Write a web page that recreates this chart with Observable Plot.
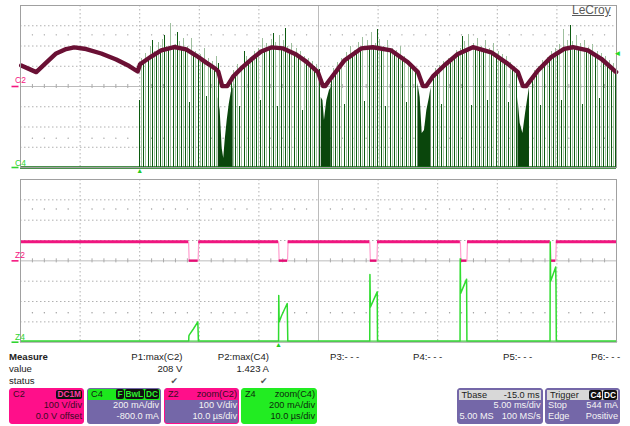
<!DOCTYPE html>
<html><head><meta charset="utf-8">
<script src="https://cdn.jsdelivr.net/npm/d3@7"></script>
<script src="https://cdn.jsdelivr.net/npm/@observablehq/plot@0.6"></script>
<style>
body{margin:0;background:#fff;font-family:"Liberation Sans",Arial,sans-serif;}
#wrap{position:relative;width:630px;height:426px;overflow:hidden;background:#fff;}
#top{position:absolute;left:0;top:0;}
#bot{position:absolute;left:0;top:174px;}
.t{position:absolute;font-size:9.6px;line-height:12px;color:#222;white-space:nowrap;}
.logo{position:absolute;left:572px;top:3px;font-size:12px;line-height:14px;color:#5a5a5a;text-decoration:underline;}
.box{position:absolute;top:388px;height:36px;border:1px solid;border-radius:3px;font-size:9.2px;line-height:11px;overflow:hidden;box-sizing:border-box;white-space:nowrap;}
.hd{height:11px;display:flex;justify-content:space-between;align-items:center;padding:0 1px 0 3px;}
.row{display:flex;justify-content:space-between;padding:0 1px 0 2px;}
.r{text-align:right;padding-right:1px;}
.bd{background:#111;padding:0 1px;border-radius:2px;font-weight:bold;font-size:8.3px;line-height:9px;margin-left:1px;}
</style></head><body>
<div id="wrap">
<div id="top"></div><div id="bot"></div>
<div class="logo">LeCroy</div>
<div id="meas"></div>
</div>
<script>
// ---------- C2 (line voltage, V) vs time (ms) ----------
const c2T = [-9.94,-8.68,-7.84,-7.01,-6.17,-5.49,-4.49,-3.23,-1.97,-0.88,-0.17,0.03,0.96,1.80,2.89,3.90,4.74,5.58,6.33,6.59,6.92,7.34,7.84,8.51,9.35,10.19,11.03,12.04,13.13,13.97,14.95,15.37,15.57,15.79,17.16,18.58,19.56,21.10,22.50,23.34,23.76,24.04,24.6,25.57,26.69,27.95,29.49,30.89,31.73,32.15,32.42,33.41,34.52,35.61,36.34,37.60,38.72,39.97];
const c2V = [104,71,118,163,185,193,185,163,133,101,74,110,148,178,195,183,153,118,89,74,2,2,49,89,133,173,193,188,158,123,71,2,2,21,128,188,194,178,120,71,2,2,50,105,161,194,169,112,71,2,2,79,145,186,194,178,137,71];

// ---------- C4 (current, mA) switching pulses ----------
const darkT = [0,0.35,0.7,1.05,1.4,1.75,2.1,2.45,2.8,3.15,3.5,3.85,4.2,4.55,4.9,5.25,5.6,5.95,6.3,6.65,
7.7,8.05,8.4,8.75,9.1,9.45,9.8,10.15,10.5,10.85,11.2,11.55,11.9,12.25,12.6,12.95,13.3,13.65,14.0,14.35,14.7,15.05,
16.1,16.45,16.8,17.15,17.5,17.85,18.2,18.55,18.9,19.25,19.6,19.95,20.3,20.65,21.0,21.35,21.7,22.05,22.4,22.75,23.1,
24.65,25.0,25.35,25.7,26.05,26.4,26.75,27.1,27.45,27.8,28.15,28.5,28.85,29.2,29.55,29.9,30.25,30.6,30.95,31.3,31.65,
32.95,33.3,33.65,34.0,34.35,34.7,35.05,35.4,35.75,36.1,36.45,36.8,37.15,37.5,37.85,38.2,38.55,38.9,39.25,39.6,39.95];
const darkI = [660,1050,1080,1250,1130,1150,1300,1180,1190,1330,1180,1170,640,1120,1100,1065,700,1010,980,1030,
890,930,600,1150,1040,1080,1110,660,1165,1180,1320,600,1178,1370,1150,1125,1105,560,1045,1020,995,970,
900,950,1000,620,1090,1120,1150,1175,650,1186,1190,1360,1180,600,1160,1140,1105,1080,640,1010,970,
910,940,620,1000,1045,1085,1125,1290,1170,610,1186,1175,1165,660,1135,1115,1085,1050,640,985,950,
900,945,610,1030,1075,1110,1135,660,1175,1400,1188,1180,620,1160,1145,1120,680,1055,1020,985,950];
const lightT = [0.17,0.52,0.87,1.22,1.57,1.92,2.27,2.62,2.97,3.32,3.67,4.02,4.37,4.72,5.07,5.42,5.77,6.12,6.47,
7.87,8.22,8.57,8.92,9.27,9.62,9.97,10.32,10.67,11.02,11.37,11.72,12.07,12.42,12.77,13.12,13.47,13.82,14.17,14.52,14.87,
16.27,16.62,16.97,17.32,17.67,18.02,18.37,18.72,19.07,19.42,19.77,20.12,20.47,20.82,21.17,21.52,21.87,22.22,22.57,22.92,
24.82,25.17,25.52,25.87,26.22,26.57,26.92,27.27,27.62,27.97,28.32,28.67,29.02,29.37,29.72,30.07,30.42,30.77,31.12,31.47,
33.12,33.47,33.82,34.17,34.52,34.87,35.22,35.57,35.92,36.27,36.62,36.97,37.32,37.67,38.02,38.37,38.72,39.07,39.42,39.77];
const lightI = [1080,1130,1200,1150,1230,1260,1200,1425,1210,1240,1270,1200,1270,1150,1120,1180,1080,1050,1100,
960,1020,1000,1100,1080,1150,1180,1270,1220,1260,1230,1300,1250,1200,1220,1180,1150,1100,1080,1050,1020,
980,1040,1080,1140,1200,1160,1230,1280,1250,1330,1220,1260,1200,1250,1180,1160,1200,1100,1060,1000,
980,1010,1050,1080,1100,1160,1180,1240,1310,1220,1270,1200,1250,1180,1220,1150,1120,1100,1040,1000,
960,1000,1060,1090,1150,1180,1210,1360,1250,1240,1300,1220,1250,1190,1210,1150,1130,1100,1060,1030];
// dense pulse bursts near each zero crossing (envelope, mA)
const valleyId = [1,1,1,1,1,1,1,1,1, 2,2,2,2,2,2, 3,3,3,3,3,3,3, 4,4,4,4,4,4];
const valleyT  = [6.59,6.75,6.92,7.05,7.17,7.34,7.51,7.68,7.84, 15.23,15.37,15.50,15.70,15.92,16.07, 23.34,23.53,23.70,23.89,24.09,24.31,24.45, 31.73,31.92,32.15,32.37,32.57,32.70];
const valleyI  = [691,563,188,89,267,464,622,741,790, 691,662,464,662,760,790, 830,691,336,365,563,691,790, 691,435,336,533,691,790];

// ---------- Zoom traces (time in µs) ----------
const z2T = [0,28.2,28.3,29.8,29.9,43.3,43.4,44.8,44.9,58.6,58.7,59.8,59.9,73.8,73.9,74.9,75.0,88.9,89.0,89.8,89.9,100];
const z2V = [94,94,1,1,94,94,1,1,94,94,1,1,94,94,1,1,94,94,1,1,94,94];
const z4T = [0,28.22,28.25,28.35,29.0,29.75,29.85,43.3,43.33,43.4,43.8,44.75,44.85,58.6,58.63,58.7,59.85,59.9,73.75,73.78,73.85,74.85,74.9,88.85,88.88,88.95,89.8,89.85,89.9,100];
const z4I = [10,10,60,75,130,200,10,10,460,200,260,380,10,10,665,345,495,10,10,820,480,620,10,10,985,600,740,540,10,10];

// ---------- graticule ----------
const topXGrid = [-5,0,5,10,20,25,30,35];
const botXGrid = [10,20,30,40,60,70,80,90];
const yGrid = [1,2,3,5,6,7];
const dotRows = [1.45, 6.55];

const c2Rows = c2T.map((t,i)=>({t, v:c2V[i]}));
const darkRows = darkT.map((t,i)=>({t, i:darkI[i]})).filter(d=>d.i!=null);
const lightRows = lightT.map((t,i)=>({t, i:lightI[i]})).filter(d=>d.i!=null);
const valleyRows = valleyT.map((t,i)=>({t, i:valleyI[i], id:valleyId[i]}));
const z2Rows = z2T.map((t,i)=>({t, v:z2V[i]}));
const z4Rows = z4T.map((t,i)=>({t, i:z4I[i]}));
const z2Flat = [];
for (let k=0;k<z2Rows.length-1;k++) if (z2Rows[k].v===z2Rows[k+1].v) z2Flat.push({x1:z2Rows[k].t,x2:z2Rows[k+1].t,v:z2Rows[k].v});

const PINK="#f5167f", GREEN="#2fd42f";
const gridStyle = {stroke:"#b0b0b0", strokeDasharray:"1.5,2.5"};

function graticule(x0, x1, xGrid, xCenter){
  const per = (x1-x0)/50; // 1/5 division
  const minor = d3.range(x0+per, x1-per/2, per).filter(v => Math.abs(((v-x0)/(per*5)) - Math.round((v-x0)/(per*5))) > 1e-6);
  const dots = dotRows.flatMap(y => minor.map(x=>({x,y})));
  return [
    Plot.ruleX(xGrid, gridStyle),
    Plot.ruleY(yGrid, gridStyle),
    Plot.ruleX([xCenter], {stroke:"#bcbcbc"}),
    Plot.ruleY([4], {stroke:"#bcbcbc"}),
    Plot.dot(dots, {x:"x", y:"y", r:0.7, fill:"#9a9a9a", stroke:null}),
    Plot.ruleX(minor, {y1:3.9, y2:4.1, stroke:"#aaaaaa"})
  ];
}
function chanLabel(txt, y, color, x0, x1, dy){
  const px = p => x0 + (p-20)*(x1-x0)/596;
  return [
    Plot.text([txt], {frameAnchor:"left", y, dx:-5.5, dy, fill:color, fontSize:8.5}),
    Plot.ruleY([y], {x1:px(11.5), x2:px(18.5), stroke:color, strokeWidth:1.6})
  ];
}

const topPlot = Plot.plot({
  width:630, height:176, marginLeft:20, marginRight:14, marginTop:5, marginBottom:9,
  x:{domain:[-10,40], axis:null},
  y:{domain:[0,8], axis:null},
  style:{fontFamily:"Liberation Sans, Arial, sans-serif", overflow:"visible", background:"transparent"},
  marks:[
    ...graticule(-10,40,topXGrid,15),
    Plot.ruleX(lightRows, {x:"t", y1:0, y2:d=>d.i/200, stroke:"#9fc09f", strokeWidth:1, shapeRendering:"crispEdges"}),
    Plot.ruleX(darkRows, {x:"t", y1:0, y2:d=>d.i/200, stroke:"#0c5a10", strokeWidth:1, shapeRendering:"crispEdges"}),
    Plot.areaY(valleyRows, {x:"t", y:d=>d.i/200, z:"id", fill:"#0a460c"}),
    Plot.ruleY([0], {stroke:"#0f6c10", strokeWidth:2.6}),
    Plot.line(c2Rows, {x:"t", y:d=>d.v/100+4, stroke:"#6a1034", strokeWidth:4.4, strokeLinejoin:"round", strokeLinecap:"round"}),
    Plot.frame({stroke:"#a0a0a0"}),
    ...chanLabel("C2", 4, PINK, -10, 40, -6),
    ...chanLabel("C4", 0, GREEN, -10, 40, -4.5),
    Plot.text(["▲"], {x:0, frameAnchor:"bottom", dy:5, fill:"#22cc22", fontSize:7}),
    Plot.text(["◄"], {frameAnchor:"right", y:5.63, dx:5, fill:"#22dd22", fontSize:8})
  ]
});
document.getElementById("top").append(topPlot);

const botPlot = Plot.plot({
  width:630, height:176, marginLeft:20, marginRight:14, marginTop:5, marginBottom:8.3,
  x:{domain:[0,100], axis:null},
  y:{domain:[0,8], axis:null},
  style:{fontFamily:"Liberation Sans, Arial, sans-serif", overflow:"visible", background:"transparent"},
  marks:[
    ...graticule(0,100,botXGrid,50),
    Plot.line(z2Rows, {x:"t", y:d=>d.v/100+4, stroke:"#ff9fcf", strokeWidth:1.2}),
    Plot.ruleY(z2Flat, {x1:"x1", x2:"x2", y:d=>d.v/100+4, stroke:d=>d.v>50?"hi":"lo", strokeWidth:d=>d.v>50?2.8:2.4}),
    Plot.line(z4Rows, {x:"t", y:d=>d.i/200, stroke:"#30dc30", strokeWidth:1.5}),
    Plot.ruleY([0.05], {stroke:"#30dc30", strokeWidth:1.2}),
    Plot.frame({stroke:"#a0a0a0"}),
    ...chanLabel("Z2", 4, PINK, 0, 100, -6),
    ...chanLabel("Z4", 0, GREEN, 0, 100, -4.5),
    Plot.text(["▲"], {x:43.3, frameAnchor:"bottom", dy:4.5, fill:"#22cc22", fontSize:7})
  ],
  color:{domain:["hi","lo"], range:["#f0157f","#e40d74"]}
});
document.getElementById("bot").append(botPlot);

// ---------- measurement table and channel boxes ----------
const measNames = ["P1:max(C2)","P2:max(C4)"];
const measVals = ["208 V","1.423 A"];
const measRight = [182.5, 269];
const checkRight = [178, 267.5];
const emptyNames = ["P3:- - -","P4:- - -","P5:- - -","P6:- - -"];
const emptyLeft = [330, 413, 503, 591];
let h = "";
h += `<div class="t" style="left:9px;top:350.5px;font-weight:bold">Measure</div>`;
h += `<div class="t" style="left:9px;top:363px">value</div>`;
h += `<div class="t" style="left:9px;top:375px">status</div>`;
measNames.forEach((n,i)=>{
  h += `<div class="t" style="right:${630-measRight[i]}px;top:350.5px">${n}</div>`;
  h += `<div class="t" style="right:${630-measRight[i]}px;top:363px">${measVals[i]}</div>`;
  h += `<div class="t" style="right:${630-checkRight[i]}px;top:375px;color:#555;font-family:'DejaVu Sans';font-size:9px">✔</div>`;
});
emptyNames.forEach((n,i)=>{ h += `<div class="t" style="left:${emptyLeft[i]}px;top:350.5px">${n}</div>`; });

const PURP="#7467a8";
h += `<div class="box" style="left:9px;width:75px;background:#ff0f8a;border-color:#ff0f8a;color:#3a0a22">
 <div class="hd"><span>C2</span><span class="bd" style="color:#ff3aa0">DC1M</span></div>
 <div class="r">100 V/div</div><div class="r">0.0 V offset</div></div>`;
h += `<div class="box" style="left:87px;width:74px;background:${PURP};border-color:${PURP};color:#f4f4f4">
 <div class="hd" style="background:#1de81d;color:#102010"><span>C4</span><span><span class="bd" style="color:#2ef02e">F</span><span class="bd" style="color:#2ef02e">BwL</span><span class="bd" style="color:#2ef02e">DC</span></span></div>
 <div class="r">200 mA/div</div><div class="r">-800.0 mA</div></div>`;
h += `<div class="box" style="left:164px;width:75px;background:${PURP};border-color:#ff0f8a;color:#f4f4f4">
 <div class="hd" style="background:#ff0f8a;color:#3a0a22"><span>Z2</span><span>zoom(C2)</span></div>
 <div class="r">100 V/div</div><div class="r">10.0 µs/div</div></div>`;
h += `<div class="box" style="left:241px;width:76px;background:#22ec22;border-color:#22ec22;color:#0c2a0c">
 <div class="hd"><span>Z4</span><span>zoom(C4)</span></div>
 <div class="r">200 mA/div</div><div class="r">10.0 µs/div</div></div>`;
h += `<div class="box" style="left:456.5px;width:86px;background:${PURP};border-color:${PURP};color:#f4f4f4">
 <div class="hd" style="background:#d8d8d8;color:#222;margin:1px 1px 0 1px;height:10px"><span>Tbase</span><span>-15.0 ms</span></div>
 <div class="r">5.00 ms/div</div><div class="row"><span>5.00 MS</span><span>100 MS/s</span></div></div>`;
h += `<div class="box" style="left:545px;width:75px;background:${PURP};border-color:${PURP};color:#f4f4f4">
 <div class="hd" style="background:#d8d8d8;color:#222;margin:1px 1px 0 1px;height:10px"><span>Trigger</span><span><span class="bd" style="color:#fff">C4</span><span class="bd" style="color:#fff">DC</span></span></div>
 <div class="row"><span>Stop</span><span>544 mA</span></div><div class="row"><span>Edge</span><span>Positive</span></div></div>`;
document.getElementById("meas").innerHTML = h;
</script>
</body></html>
